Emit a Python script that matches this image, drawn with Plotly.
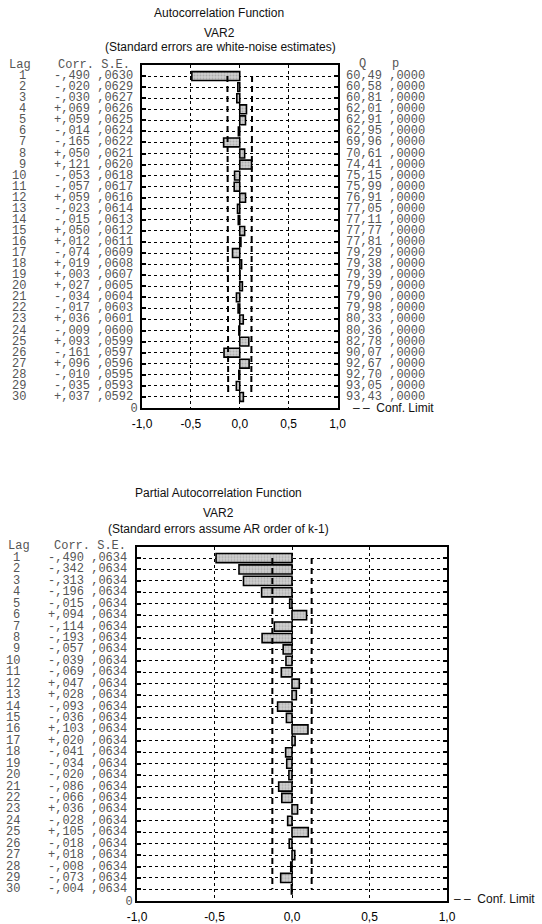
import plotly.graph_objects as go

W, H = 542, 924

lags = list(range(1, 31))
acf_corr = [-0.490, -0.020, -0.030, 0.069, 0.059, -0.014, -0.165, 0.050, 0.121, -0.053,
            -0.057, 0.059, -0.023, -0.015, 0.050, 0.012, -0.074, 0.019, 0.003, 0.027,
            -0.034, -0.017, 0.036, -0.009, 0.093, -0.161, 0.096, -0.010, -0.035, 0.037]
acf_se = [0.0630, 0.0629, 0.0627, 0.0626, 0.0625, 0.0624, 0.0622, 0.0621, 0.0620, 0.0618,
          0.0617, 0.0616, 0.0614, 0.0613, 0.0612, 0.0611, 0.0609, 0.0608, 0.0607, 0.0605,
          0.0604, 0.0603, 0.0601, 0.0600, 0.0599, 0.0597, 0.0596, 0.0595, 0.0593, 0.0592]
acf_q = [60.49, 60.58, 60.81, 62.01, 62.91, 62.95, 69.96, 70.61, 74.41, 75.15,
         75.99, 76.91, 77.05, 77.11, 77.77, 77.81, 79.29, 79.38, 79.39, 79.59,
         79.90, 79.98, 80.33, 80.36, 82.78, 90.07, 92.67, 92.70, 93.05, 93.43]
acf_p = [0.0] * 30

pacf_corr = [-0.490, -0.342, -0.313, -0.196, -0.015, 0.094, -0.114, -0.193, -0.057, -0.039,
             -0.069, 0.047, 0.028, -0.093, -0.036, 0.103, 0.020, -0.041, -0.034, -0.020,
             -0.086, -0.066, 0.036, -0.028, 0.105, -0.018, 0.018, -0.008, -0.073, -0.004]
pacf_se = [0.0634] * 30

x_tickvals = [-1.0, -0.5, 0.0, 0.5, 1.0]
x_ticktext = ["-1,0", "-0,5", "0,0", "0,5", "1,0"]

MONO = "Liberation Mono"
SANS = "Liberation Sans, Arial"
GRAY = "#555555"
NB = "\u00a0"


def fmt_corr(v):
    s = "+" if v >= 0 else "-"
    return s + "," + f"{abs(v):.3f}"[2:]


def fmt_se(v):
    return "," + f"{v:.4f}"[2:]


def fmt_q(v):
    return f"{v:.2f}".replace(".", ",")


def fmt_p(v):
    return "," + f"{v:.4f}"[2:]


fig = go.Figure()

bar_style = dict(
    orientation="h",
    width=0.8,
    marker=dict(color="#c6c6c6",
                line=dict(color="black", width=1.6),
                pattern=dict(shape=".", fgcolor="#8c8c8c", bgcolor="#cfcfcf", size=3, solidity=0.35)),
    showlegend=False,
    hoverinfo="skip",
)

fig.add_trace(go.Bar(x=acf_corr, y=lags, xaxis="x", yaxis="y", **bar_style))
fig.add_trace(go.Bar(x=pacf_corr, y=lags, xaxis="x2", yaxis="y2", **bar_style))

dash_style = dict(mode="lines", line=dict(color="black", width=2, dash="6px,4px"),
                  showlegend=False, hoverinfo="skip")
for sign in (-1, 1):
    fig.add_trace(go.Scatter(x=[sign * 2 * s for s in acf_se], y=lags, xaxis="x", yaxis="y", **dash_style))
    fig.add_trace(go.Scatter(x=[sign * 2 * s for s in pacf_se], y=lags, xaxis="x2", yaxis="y2", **dash_style))


def xaxis_cfg(domain, anchor):
    return dict(domain=domain, anchor=anchor, range=[-1, 1], tickvals=x_tickvals, ticktext=x_ticktext,
                showgrid=True, gridcolor="black", gridwidth=1, griddash="dot",
                showline=True, linecolor="black", linewidth=2, mirror=True,
                ticks="", zeroline=False, ticklabelstandoff=4, automargin=False,
                tickfont=dict(family=SANS, size=12, color="black"), fixedrange=True)


def yaxis_cfg(domain, anchor):
    return dict(domain=domain, anchor=anchor, range=[31, 0],
                tickvals=lags + [31], ticktext=[""] * 30 + ["0"],
                showgrid=True, gridcolor="black", gridwidth=1, griddash="dot",
                showline=True, linecolor="black", linewidth=2, mirror="allticks",
                ticks="inside", ticklen=4, tickcolor="black", tickwidth=1.5,
                zeroline=False, automargin=False,
                tickfont=dict(family=MONO, size=12, color=GRAY), fixedrange=True)


fig.update_layout(
    width=W, height=H,
    margin=dict(l=0, r=0, t=0, b=0),
    paper_bgcolor="white", plot_bgcolor="white",
    barmode="overlay",
    xaxis=xaxis_cfg([142 / W, 337.5 / W], "y"),
    yaxis=yaxis_cfg([1 - 408 / H, 1 - 65 / H], "x"),
    xaxis2=xaxis_cfg([137 / W, 447 / W], "y2"),
    yaxis2=yaxis_cfg([1 - 900.8 / H, 1 - 546.6 / H], "x2"),
)

ann = []


def txt(x_px, y, text, yref, xanchor="left", font=MONO, size=12, color=GRAY):
    ann.append(dict(x=x_px / W, xref="paper", y=y, yref=yref, text=text, showarrow=False,
                    xanchor=xanchor, yanchor="middle", borderpad=0,
                    font=dict(family=font, size=size, color=color)))


def ptxt(x_px, y_px, text, xanchor="center", font=SANS, color="#111111"):
    ann.append(dict(x=x_px / W, xref="paper", y=1 - y_px / H, yref="paper", text=text, showarrow=False,
                    xanchor=xanchor, yanchor="middle", borderpad=0,
                    font=dict(family=font, size=12, color=color)))


# Titles
ptxt(219, 13, "Autocorrelation Function")
ptxt(219, 33, "VAR2")
ptxt(221, 47, "(Standard errors are white-noise estimates)")
ptxt(218, 493, "Partial Autocorrelation Function")
ptxt(218, 513, "VAR2")
ptxt(218, 529, "(Standard errors assume AR order of k-1)")

# Top table
ptxt(8, 65, "Lag", xanchor="left", font=MONO, color=GRAY)
ptxt(57, 65, "Corr." + NB + "S.E.", xanchor="left", font=MONO, color=GRAY)
ptxt(358, 64, "Q", xanchor="left", font=MONO, color=GRAY)
ptxt(391, 64, "p", xanchor="left", font=MONO, color=GRAY)
for lag, c, s, q, p in zip(lags, acf_corr, acf_se, acf_q, acf_p):
    txt(27, lag, str(lag), "y", xanchor="right")
    txt(53, lag, fmt_corr(c) + NB + fmt_se(s), "y")
    txt(345, lag, fmt_q(q) + NB + fmt_p(p), "y")

# Bottom table
ptxt(7, 546, "Lag", xanchor="left", font=MONO, color=GRAY)
ptxt(53, 546, "Corr." + NB + "S.E.", xanchor="left", font=MONO, color=GRAY)
for lag, c, s in zip(lags, pacf_corr, pacf_se):
    txt(21, lag, str(lag), "y2", xanchor="right")
    txt(47, lag, fmt_corr(c) + NB + fmt_se(s), "y2")

# Legends
ptxt(352, 408, "– –" + NB + NB + "Conf. Limit", xanchor="left")
ptxt(453, 899, "– –" + NB + NB + "Conf. Limit", xanchor="left")

fig.update_layout(annotations=ann)

fig.write_html("out.html")
